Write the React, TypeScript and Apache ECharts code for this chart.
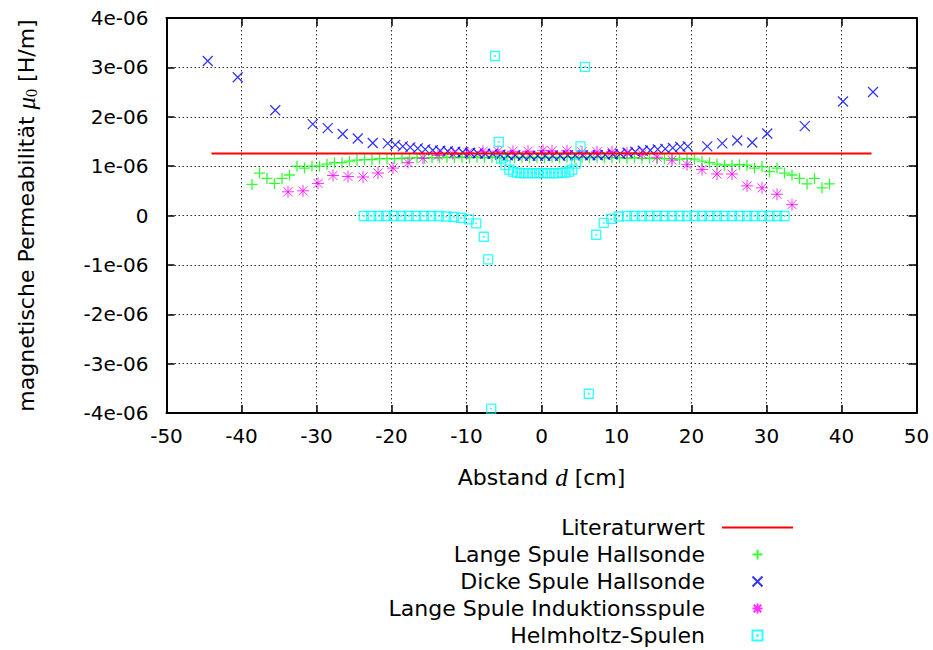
import React, { useEffect, useRef } from "react";
import * as echarts from "echarts";

// Units: x in cm, y values below in units of 1e-6 H/m
const Y_UNIT = 1e-6;

const xTicks = [-50, -40, -30, -20, -10, 0, 10, 20, 30, 40, 50];
const yTicks = [-4, -3, -2, -1, 0, 1, 2, 3, 4];

const literaturX = [-44, 44];
const literaturY = [1.2566, 1.2566];

const langeHallX = [
  -38.6, -37.6, -36.6, -35.6, -34.6, -33.6, -32.6, -31.6, -30.6, -29.6,
  -28.6, -27.6, -26.6, -25.6, -24.6, -23.6, -22.6, -21.6, -20.6, -19.6,
  -18.6, -17.6, -16.6, -15.6, -14.6, -13.6, -12.6, -11.6, -10.6, -9.6,
  -8.6, -7.6, -6.6, -5.6, -4.6, -3.6, -2.6, -1.6, -0.6, 0.4,
  1.4, 2.4, 3.4, 4.4, 5.4, 6.4, 7.4, 8.4, 9.4, 10.4,
  11.4, 12.4, 13.4, 14.4, 15.4, 16.4, 17.4, 18.4, 19.4, 20.4,
  21.4, 22.4, 23.4, 24.4, 25.4, 26.4, 27.4, 28.4, 29.4, 30.4,
  31.4, 32.4, 33.4, 34.4, 35.4, 36.4, 37.4, 38.4,
];
const langeHallY = [
  0.63, 0.86, 0.75, 0.65, 0.75, 0.82, 1.0, 0.96, 1.0, 1.0,
  1.04, 1.07, 1.07, 1.1, 1.12, 1.13, 1.13, 1.15, 1.15, 1.15,
  1.16, 1.16, 1.17, 1.16, 1.17, 1.17, 1.18, 1.17, 1.18, 1.17,
  1.18, 1.17, 1.18, 1.17, 1.18, 1.17, 1.18, 1.17, 1.18, 1.17,
  1.18, 1.17, 1.18, 1.17, 1.18, 1.17, 1.18, 1.17, 1.17, 1.17,
  1.16, 1.17, 1.16, 1.16, 1.15, 1.15, 1.15, 1.14, 1.15, 1.14,
  1.1, 1.07, 1.04, 1.02, 1.02, 1.03, 1.02, 0.96, 0.99, 0.89,
  0.96, 0.86, 0.82, 0.75, 0.64, 0.75, 0.56, 0.64,
];

const dickeHallX = [
  -44.5, -40.5, -35.5, -30.5, -28.5, -26.5, -24.5, -22.5, -20.5, -19.5,
  -18.5, -17.5, -16.5, -15.5, -14.5, -13.5, -12.5, -11.5, -10.5, -9.5,
  -8.5, -7.5, -6.5, -5.5, -4.5, -3.5, -2.5, -1.5, -0.5, 0.5,
  1.5, 2.5, 3.5, 4.5, 5.5, 6.5, 7.5, 8.5, 9.5, 10.5,
  11.5, 12.5, 13.5, 14.5, 15.5, 16.5, 17.5, 18.5, 19.5, 22.1,
  24.1, 26.1, 28.1, 30.1, 35.1, 40.2, 44.2,
];
const dickeHallY = [
  3.13, 2.8, 2.13, 1.85, 1.77, 1.65, 1.56, 1.47, 1.46, 1.43,
  1.4, 1.38, 1.36, 1.34, 1.32, 1.31, 1.3, 1.29, 1.28, 1.27,
  1.26, 1.25, 1.25, 1.23, 1.22, 1.22, 1.21, 1.21, 1.21, 1.21,
  1.21, 1.21, 1.22, 1.22, 1.22, 1.22, 1.22, 1.23, 1.24, 1.25,
  1.27, 1.29, 1.31, 1.32, 1.34, 1.35, 1.37, 1.39, 1.4, 1.4,
  1.46, 1.52, 1.48, 1.66, 1.81, 2.31, 2.5,
];

const langeInduktionX = [
  -33.8, -31.8, -29.8, -27.8, -25.8, -23.8, -21.8, -19.8, -17.8, -15.8,
  -13.8, -11.8, -9.8, -7.8, -5.8, -3.8, -1.8, 0.2, 1.4, 3.4,
  5.4, 7.4, 9.4, 11.4, 13.4, 15.4, 17.4, 19.4, 21.4, 23.4,
  25.4, 27.4, 29.4, 31.4, 33.4,
];
const langeInduktionY = [
  0.48, 0.5, 0.65, 0.81, 0.79, 0.78, 0.86, 0.96, 1.07, 1.16,
  1.22, 1.25, 1.27, 1.3, 1.3, 1.3, 1.3, 1.32, 1.31, 1.31,
  1.29, 1.29, 1.29, 1.27, 1.24, 1.18, 1.12, 1.03, 0.93, 0.84,
  0.84, 0.6, 0.56, 0.43, 0.22,
];

const helmholtzX = [
  -23.7, -22.7, -21.7, -20.7, -19.7, -18.7, -17.7, -16.7, -15.7, -14.7,
  -13.7, -12.7, -11.7, -10.7, -9.7, -8.7, -7.7, -7.1, -6.7, -6.2,
  -5.7, -5.4, -4.8, -4.3, -3.8, -3.3, -2.8, -2.3, -1.8, -1.3,
  -0.8, -0.3, 0.2, 0.7, 1.2, 1.7, 2.2, 2.7, 3.2, 3.7,
  4.1, 4.6, 5.2, 5.8, 6.3, 7.3, 8.3, 9.3, 10.3, 11.4,
  12.4, 13.4, 14.4, 15.4, 16.4, 17.4, 18.4, 19.4, 20.4, 21.4,
  22.4, 23.4, 24.4, 25.4, 26.4, 27.4, 28.4, 29.4, 30.4, 31.4,
  32.4,
];
const helmholtzY = [
  -0.01, -0.01, -0.01, -0.01, -0.01, -0.01, -0.01, -0.01, -0.01, -0.01,
  -0.01, -0.02, -0.03, -0.05, -0.08, -0.16, -0.43, -0.89, -3.91, 3.23,
  1.49, 1.15, 1.02, 0.93, 0.89, 0.87, 0.86, 0.86, 0.86, 0.86,
  0.86, 0.86, 0.86, 0.86, 0.86, 0.86, 0.86, 0.87, 0.87, 0.89,
  0.93, 1.05, 1.4, 3.01, -3.61, -0.39, -0.15, -0.07, -0.02, -0.01,
  -0.01, -0.01, -0.01, -0.01, -0.01, -0.01, -0.01, -0.01, -0.01, -0.01,
  -0.01, -0.01, -0.01, -0.01, -0.01, -0.01, -0.01, -0.01, -0.01, -0.01,
  -0.01,
];

const SYM_PLUS = "path://M5,0L5,10M0,5L10,5";
const SYM_CROSS = "path://M0,0L10,10M0,10L10,0";
const SYM_STAR = "path://M5,0L5,10M0,5L10,5M1.2,1.2L8.8,8.8M1.2,8.8L8.8,1.2";
const SYM_BOXDOT =
  "path://M0,0L10,0L10,10L0,10ZM4.7,4.7L5.3,4.7L5.3,5.3L4.7,5.3Z";
const LEGEND_LINE = "path://M0,0L71,0L71,2L0,2Z";

const pairs = (xs: number[], ys: number[]) =>
  xs.map((x, i) => [x, ys[i] * Y_UNIT]);

const SANS = "DejaVu Sans";
const SERIF = "Liberation Serif";

export default function App() {
  const ref = useRef<HTMLDivElement>(null);

  useEffect(() => {
    if (!ref.current) return;
    const chart = echarts.init(ref.current, undefined, { renderer: "svg" });

    const fmtY = (v: number) => {
      const n = Math.round(v / Y_UNIT);
      if (n === 0) return "0";
      return `${n}e-06`;
    };

    const gridLine = {
      show: true,
      lineStyle: { color: "#333", width: 1, type: [1.5, 2.5] as any },
    };

    const scatterBase = (
      name: string,
      xs: number[],
      ys: number[],
      symbol: string,
      size: number,
      color: string,
      bw: number
    ) => ({
      name,
      type: "scatter",
      data: pairs(xs, ys),
      symbol,
      symbolSize: size,
      symbolKeepAspect: true,
      itemStyle: {
        color: "rgba(0,0,0,0)",
        borderColor: color,
        borderWidth: bw,
      },
      emphasis: { disabled: true },
    });

    const tick = {
      show: true,
      inside: true,
      length: 8,
      lineStyle: { color: "#000", width: 1.5 },
    };
    const border = {
      show: true,
      onZero: false,
      lineStyle: { color: "#000", width: 2 },
    };

    chart.setOption({
      animation: false,
      backgroundColor: "#ffffff",
      textStyle: { fontFamily: SANS },
      grid: {
        left: 166.5,
        right: 16.5,
        top: 18,
        bottom: 237,
        outerBoundsMode: "none",
      },
      legend: {
        orient: "vertical",
        align: "right",
        right: 140,
        top: 514,
        height: 136,
        padding: 0,
        itemWidth: 71,
        itemHeight: 10,
        itemGap: 0,
        textStyle: {
          fontFamily: SANS,
          fontSize: 22,
          color: "#000",
          lineHeight: 27,
          padding: [0, 12, 0, 0],
        },
        data: [
          { name: "Literaturwert", icon: LEGEND_LINE, itemStyle: { color: "#ff0000", borderWidth: 0 } },
          "Lange Spule Hallsonde",
          "Dicke Spule Hallsonde",
          "Lange Spule Induktionsspule",
          "Helmholtz-Spulen",
        ],
      },
      xAxis: [
        {
          type: "value",
          min: xTicks[0],
          max: xTicks[xTicks.length - 1],
          interval: 10,
          position: "bottom",
          axisLine: border,
          axisTick: tick,
          axisLabel: {
            fontFamily: SANS,
            fontSize: 20,
            color: "#000",
            margin: 13,
          },
          splitLine: gridLine,
          name: "{a|Abstand }{i|d}{a| [cm]}",
          nameLocation: "middle",
          nameGap: 52,
          nameTextStyle: {
            rich: {
              a: { fontFamily: SANS, fontSize: 22, color: "#000" },
              i: {
                fontFamily: SERIF,
                fontStyle: "italic",
                fontSize: 25,
                color: "#000",
              },
            },
          },
        },
        {
          type: "value",
          min: xTicks[0],
          max: xTicks[xTicks.length - 1],
          interval: 10,
          position: "top",
          axisLine: border,
          axisTick: tick,
          axisLabel: { show: false },
          splitLine: { show: false },
        },
      ],
      yAxis: [
        {
          type: "value",
          min: yTicks[0] * Y_UNIT,
          max: yTicks[yTicks.length - 1] * Y_UNIT,
          interval: Y_UNIT,
          position: "left",
          axisLine: border,
          axisTick: tick,
          axisLabel: {
            fontFamily: SANS,
            fontSize: 20,
            color: "#000",
            margin: 18,
            formatter: fmtY,
          },
          splitLine: gridLine,
          name: "{a|magnetische Permeabilität }{i|μ}{s|0}{a| [H/m]}",
          nameLocation: "middle",
          nameGap: 127,
          nameRotate: 90,
          nameTextStyle: {
            rich: {
              a: { fontFamily: SANS, fontSize: 22, color: "#000" },
              i: {
                fontFamily: SERIF,
                fontStyle: "italic",
                fontSize: 25,
                color: "#000",
              },
              s: {
                fontFamily: SERIF,
                fontSize: 16,
                color: "#000",
                verticalAlign: "bottom",
                padding: [10, 0, 0, 0],
              },
            },
          },
        },
        {
          type: "value",
          min: yTicks[0] * Y_UNIT,
          max: yTicks[yTicks.length - 1] * Y_UNIT,
          interval: Y_UNIT,
          position: "right",
          axisLine: border,
          axisTick: tick,
          axisLabel: { show: false },
          splitLine: { show: false },
        },
      ],
      series: [
        {
          name: "Literaturwert",
          type: "line",
          data: pairs(literaturX, literaturY),
          symbol: "none",
          lineStyle: { color: "#ff0000", width: 2 },
          itemStyle: { color: "#ff0000" },
          emphasis: { disabled: true },
        },
        scatterBase("Lange Spule Hallsonde", langeHallX, langeHallY, SYM_PLUS, 11, "#00ff00", 1.3),
        scatterBase("Dicke Spule Hallsonde", dickeHallX, dickeHallY, SYM_CROSS, 10, "#0000ff", 1.3),
        scatterBase("Lange Spule Induktionsspule", langeInduktionX, langeInduktionY, SYM_STAR, 12, "#ff00ff", 1),
        scatterBase("Helmholtz-Spulen", helmholtzX, helmholtzY, SYM_BOXDOT, 9, "#00ffff", 1.3),
      ],
    });

    return () => chart.dispose();
  }, []);

  return (
    <div
      ref={ref}
      style={{ position: "absolute", left: 0, top: 0, width: 933, height: 650 }}
    />
  );
}
